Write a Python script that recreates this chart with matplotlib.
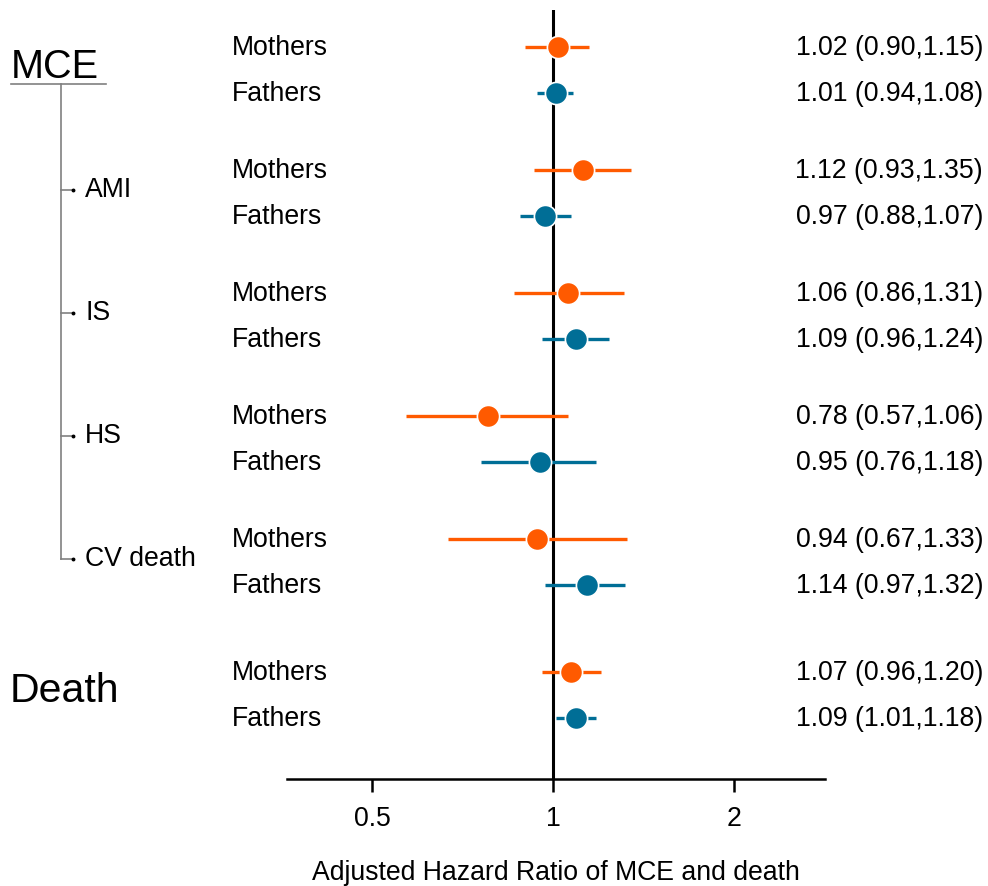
import numpy as np
import matplotlib
matplotlib.use("Agg")
import matplotlib.pyplot as plt

plt.rcParams['font.family'] = ['Liberation Sans', 'DejaVu Sans']

# ---- data ----
groups = ['MCE', 'AMI', 'IS', 'HS', 'CV death', 'Death']
parents = ['Mothers', 'Fathers']
hr = [1.02, 1.01, 1.12, 0.97, 1.06, 1.09, 0.78, 0.95, 0.94, 1.14, 1.07, 1.09]
lo = [0.90, 0.94, 0.93, 0.88, 0.86, 0.96, 0.57, 0.76, 0.67, 0.97, 0.96, 1.01]
hi = [1.15, 1.08, 1.35, 1.07, 1.31, 1.24, 1.06, 1.18, 1.33, 1.32, 1.20, 1.18]
xticks = [0.5, 1, 2]
xtick_labels = ['0.5', '1', '2']

col_m = '#FF5A00'
col_f = '#006E96'
fs = 19.2

# ---- layout (pixel units, y downward) ----
W, H = 988, 886
row_step = 46
group_gap = 77
death_gap = 87
ys = []
y = 47
for g in range(len(groups)):
    if g > 0:
        y += death_gap if groups[g] == 'Death' else group_gap
    ys.append(y)
    ys.append(y + row_step)
    y += row_step
ys = np.array(ys)

fig = plt.figure(figsize=(W / 100, H / 100), dpi=100)

# overlay for text in pixel coords
ov = fig.add_axes([0, 0, 1, 1])
ov.set_xlim(0, W)
ov.set_ylim(H, 0)
ov.axis('off')

ax_left, ax_right, ax_top, ax_bot = 287, 825, 10, 779
ax = fig.add_axes([ax_left / W, (H - ax_bot) / H, (ax_right - ax_left) / W, (ax_bot - ax_top) / H])
ax.set_xscale('log', base=2)
ax.set_xlim(2 ** ((ax_left - 553) / 181), 2 ** ((ax_right - 553) / 181))
ax.set_ylim(ax_bot, ax_top)
ax.patch.set_alpha(0)

ax.axvline(1, color='black', lw=2.2, zorder=1)

for i in range(len(hr)):
    c = col_m if i % 2 == 0 else col_f
    ax.plot([lo[i], hi[i]], [ys[i], ys[i]], color=c, lw=2.4, solid_capstyle='butt', zorder=2)
    ax.plot(hr[i], ys[i], 'o', color=c, markersize=16, markeredgecolor='white',
            markeredgewidth=1.2, zorder=3)
    ov.text(232, ys[i] + 1, parents[i % 2], fontsize=fs, va='center', ha='left')
    ov.text(983, ys[i] + 1, f'{hr[i]:.2f} ({lo[i]:.2f},{hi[i]:.2f})', fontsize=fs,
            va='center', ha='right')

for s in ['left', 'right', 'top']:
    ax.spines[s].set_visible(False)
ax.spines['bottom'].set_linewidth(1.8)
ax.set_yticks([])
ax.set_xticks(xticks)
ax.set_xticklabels(xtick_labels)
ax.minorticks_off()
ax.tick_params(axis='x', length=9.5, width=1.8, pad=10, labelsize=fs)
ax.set_xlabel('Adjusted Hazard Ratio of MCE and death', fontsize=fs, labelpad=20)

# ---- left hierarchy ----
gray = '#808080'
mce_y = (ys[0] + ys[1]) / 2
ov.text(11, mce_y - 3, groups[0], fontsize=28.5, va='center', ha='left')
ov.plot([11, 106], [84, 84], color=gray, lw=1.2)
sub_y = [(ys[2 * g] + ys[2 * g + 1]) / 2 - 3 for g in range(1, 5)]
ov.plot([61, 61], [84, sub_y[-1]], color=gray, lw=1.2)
for g, yy in zip(groups[1:5], sub_y):
    ov.plot([61, 73], [yy, yy], color=gray, lw=1.2)
    ov.plot(73, yy, 'o', color='black', markersize=1.8)
    ov.text(85, yy, g, fontsize=fs, va='center', ha='left')
death_y = (ys[10] + ys[11]) / 2
ov.text(10, death_y - 4, groups[5], fontsize=29.5, va='center', ha='left')

fig.savefig('out.png', dpi=100)
